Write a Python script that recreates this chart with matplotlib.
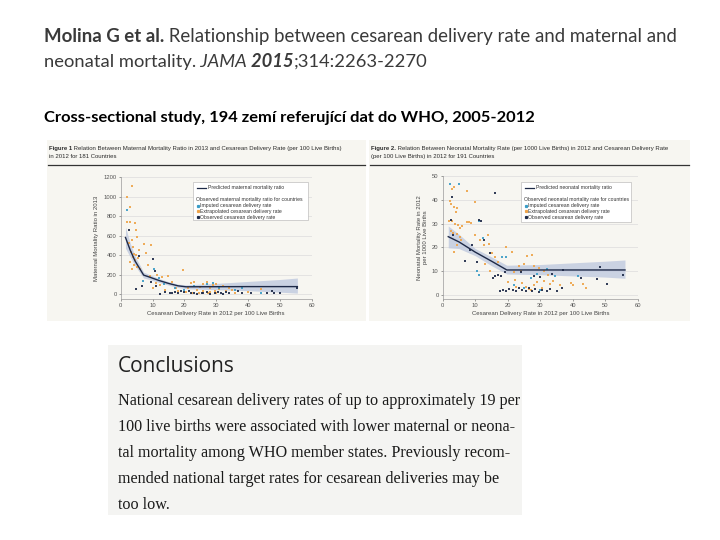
import matplotlib
matplotlib.use("Agg")
import matplotlib.pyplot as plt
from matplotlib.patches import Rectangle
from matplotlib.lines import Line2D
from matplotlib.transforms import Affine2D

# =====================================================================
# DATA
# =====================================================================
X_TICKS = [0, 10, 20, 30, 40, 50, 60]
MMR_TICKS = [0, 200, 400, 600, 800, 1000, 1200]
NMR_TICKS = [0, 10, 20, 30, 40, 50]

# Figure 1 - maternal mortality ratio vs cesarean rate
mmr_pred_x = [1.5, 3, 4.5, 6, 7.2, 9, 12, 15, 18, 20.5, 30, 40, 50, 55.5]
mmr_pred_y = [580, 450, 340, 260, 195, 175, 140, 110, 85, 75, 76, 77, 77, 77]
mmr_pred_lo = [470, 380, 290, 220, 165, 150, 120, 92, 68, 55, 45, 35, 20, 10]
mmr_pred_hi = [690, 520, 390, 300, 225, 200, 160, 128, 102, 95, 110, 130, 150, 165]

mmr_imputed_x = [1.9, 10.5, 12, 7, 13.5, 23, 27, 29, 31, 17, 36, 38, 44, 20]
mmr_imputed_y = [860, 260, 170, 130, 100, 80, 100, 110, 60, 60, 40, 60, 10, 40]

mmr_extrap_x = [3.6, 1.9, 2.9, 2.0, 2.9, 4.5, 4.8, 5.0, 3.4, 2.5, 4.0, 5.6, 3.3, 4.3, 4.8, 3.8,
                5.3, 4.5, 3.0, 4.1, 5.0, 6.0, 3.7, 7.2, 9.4, 7.8, 8.5, 9.2, 11.5, 13, 15, 11,
                12.5, 10.2, 14, 16, 17.5, 19.5, 20.5, 22, 23, 24, 25, 26, 27, 28, 29, 30, 31,
                32, 33, 34, 35, 21, 26, 28, 30, 44, 40, 36, 22.5, 24.5, 27.5, 18, 29.5]
mmr_extrap_y = [1110, 990, 890, 735, 735, 730, 655, 590, 550, 520, 480, 450, 430, 410, 400, 380,
                370, 350, 330, 300, 280, 260, 260, 510, 500, 420, 300, 190, 200, 180, 190, 110,
                90, 60, 40, 120, 60, 250, 20, 110, 120, 40, 70, 105, 120, 60, 90, 100, 50,
                80, 30, 60, 40, 60, 30, 20, 15, 50, 20, 10, 10, 15, 8, 30, 30]

mmr_obs_x = [2.6, 5.8, 10.2, 4.7, 6.6, 10.7, 9.5, 11, 15.5, 17, 19, 20, 21.5, 23, 24, 25.5, 27,
             28, 29.5, 30.5, 31.5, 33, 34, 37, 38, 41, 46, 47.5, 48, 50, 55.5, 26, 22, 18, 32,
             12.5, 14, 16]
mmr_obs_y = [660, 390, 360, 50, 80, 235, 120, 80, 10, 20, 30, 20, 30, 15, 5, 10, 20,
             5, 12, 20, 15, 25, 10, 30, 12, 15, 12, 30, 8, 8, 60, 8, 8, 12, 5,
             5, 25, 15]

# Figure 2 - neonatal mortality rate vs cesarean rate
nmr_pred_x = [1.7, 5, 10, 15, 19.7, 30, 40, 50, 56]
nmr_pred_y = [24.5, 22.3, 18.0, 14.2, 10.5, 10.5, 10.5, 10.5, 10.5]
nmr_pred_lo = [19.8, 19.5, 16.5, 12.3, 8.8, 8.5, 8.0, 7.5, 7.0]
nmr_pred_hi = [29.0, 25.5, 19.5, 16.0, 12.5, 12.8, 13.5, 14.2, 14.7]

nmr_imputed_x = [2.2, 5.0, 11, 12.3, 11, 10.6, 18.2, 19.6, 27, 29, 32, 34.5, 41.5, 22, 25, 30]
nmr_imputed_y = [46.6, 46.6, 31, 24, 8.5, 10, 16, 16, 7, 9, 11, 8, 8, 4, 3, 2]

nmr_extrap_x = [3.0, 3.6, 7.4, 2.2, 2.7, 3.5, 4.3, 4.0, 9.9, 1.8, 2.8, 3.8, 4.7, 5.4, 2.5, 3.3,
                4.3, 5.3, 5.6, 4.5, 3.5, 7.4, 8.0, 8.6, 6.0, 10, 11.4, 12.7, 13.9, 14.2, 15, 16,
                17, 13, 14.5, 19.3, 21.2, 21.8, 22.2, 20, 23.5, 24, 25, 26, 27.3, 28, 29.5, 31,
                32.5, 24.5, 25.5, 26.5, 28, 29, 30.5, 33, 34, 36, 39.5, 40, 43.2, 44, 22.5, 27, 31]
nmr_extrap_y = [44.5, 45.2, 43.6, 39.5, 38.3, 37, 36.6, 35, 39, 31, 31, 30, 29.5, 28, 27, 26,
                25.5, 24.5, 23, 21, 18, 30.5, 30.6, 30.2, 29, 25, 23, 20.8, 25, 21.5, 17.5, 16,
                14, 13, 10, 20, 18.2, 9.6, 6.2, 5.5, 12, 10, 13, 16.5, 17, 12, 11.5, 10,
                8.5, 5, 3.5, 2.5, 4, 5.5, 3, 4.5, 6, 4, 5, 4, 4.6, 3, 3.5, 2, 6]

nmr_obs_x = [3.0, 2.4, 3.1, 6.9, 10.6, 11.3, 11.7, 12.7, 8.5, 9, 14.5, 16.2, 16.1, 17, 18, 15.6,
             19, 17.5, 18.5, 19.5, 20.5, 21.5, 22.5, 23.5, 24.5, 25.5, 26.5, 27.5, 28.5, 29.5,
             30.5, 32, 33, 35, 37, 36.5, 42.6, 48.3, 55.5, 50.5, 47.5, 28, 30, 33.5, 24]
nmr_obs_y = [41, 31.6, 25, 14.4, 14, 31.5, 31, 23, 19, 21, 17.5, 42.8, 8, 8.5, 8, 7,
             9.5, 1.5, 2, 1.5, 2.5, 2, 1.5, 3, 2, 1.8, 3, 1.5, 2.5, 1.2,
             2, 1.5, 2.5, 1.5, 10.5, 3, 7.3, 11.9, 8.5, 4.6, 6.7, 8, 7.5, 9, 9.5]

# =====================================================================
# STYLE
# =====================================================================
ORANGE = '#eea44a'
TEAL = '#3a9cc6'
NAVY = '#1d2947'
BAND = '#bcc6de'
PANEL_BG = '#f7f6f1'
INK = '#3a3a3a'
SMALL_FONT = 'Liberation Sans'

fig = plt.figure(figsize=(7.2, 5.4), dpi=100)
fig.patch.set_facecolor('white')
# pixel coordinates with the origin in the top-left corner
PIX = Affine2D().scale(1 / 720, -1 / 540).translate(0, 1) + fig.transFigure
renderer = fig.canvas.get_renderer()


def text_runs(x, y, runs, size, family, color):
    # write pieces of one line one after the other (bold / italic mixed)
    for s, weight, style in runs:
        t = fig.text(x, y, s, transform=PIX, fontsize=size, fontweight=weight,
                     fontstyle=style, family=family, color=color, va='baseline')
        x += t.get_window_extent(renderer).width


def axes_px(x0, y0, x1, y1):
    return fig.add_axes([x0 / 720, 1 - y1 / 540, (x1 - x0) / 720, (y1 - y0) / 540])


# =====================================================================
# SLIDE HEADER
# =====================================================================
text_runs(44, 42, [('Molina G et al.', 'bold', 'normal'),
                   (' Relationship between cesarean delivery rate and maternal and', 'normal', 'normal')],
          13.45, 'Lato', INK)
text_runs(44, 67, [('neonatal mortality.', 'normal', 'normal'), (' JAMA', 'normal', 'italic'),
                   (' 2015', 'bold', 'italic'), (';314:2263-2270', 'normal', 'normal')],
          13.2, 'Lato', INK)
text_runs(44, 122, [('Cross-sectional study, 194 zemí referující dat do WHO, 2005-2012', 'bold', 'normal')],
          11.85, 'Lato', 'black')

# =====================================================================
# THE TWO SCANNED JAMA FIGURES
# =====================================================================
panels = [
    dict(bg=(47, 140, 366, 321), ax=(120.7, 177, 311.7, 299),
         head=[('Figure 1', 'bold', 'normal'),
               (' Relation Between Maternal Mortality Ratio in 2013 and Cesarean Delivery Rate (per 100 Live Births)', 'normal', 'normal')],
         head2='in 2012 for 181 Countries',
         px=mmr_pred_x, py=mmr_pred_y, plo=mmr_pred_lo, phi=mmr_pred_hi,
         series=[(mmr_extrap_x, mmr_extrap_y, ORANGE), (mmr_imputed_x, mmr_imputed_y, TEAL),
                 (mmr_obs_x, mmr_obs_y, NAVY)],
         ylim=(-50, 1200), yticks=MMR_TICKS, ylabel='Maternal Mortality Ratio in 2013',
         key=(193, 182, 308, 220),
         key_labels=['Predicted maternal mortality ratio', 'Observed maternal mortality ratio for countries']),
    dict(bg=(369, 140, 690, 321), ax=(442.7, 176, 638, 299),
         head=[('Figure 2.', 'bold', 'normal'),
               (' Relation Between Neonatal Mortality Rate (per 1000 Live Births) in 2012 and Cesarean Delivery Rate', 'normal', 'normal')],
         head2='(per 100 Live Births) in 2012 for 191 Countries',
         px=nmr_pred_x, py=nmr_pred_y, plo=nmr_pred_lo, phi=nmr_pred_hi,
         series=[(nmr_extrap_x, nmr_extrap_y, ORANGE), (nmr_imputed_x, nmr_imputed_y, TEAL),
                 (nmr_obs_x, nmr_obs_y, NAVY)],
         ylim=(-1.7, 50), yticks=NMR_TICKS, ylabel='Neonatal Mortality Rate in 2012\nper 1000 Live Births',
         key=(521, 182, 631, 222),
         key_labels=['Predicted neonatal mortality ratio', 'Observed neonatal mortality rate for countries']),
]

for p in panels:
    bx0, by0, bx1, by1 = p['bg']
    fig.add_artist(Rectangle((bx0, by0), bx1 - bx0, by1 - by0, transform=PIX,
                             facecolor=PANEL_BG, edgecolor='none', zorder=0))
    text_runs(bx0 + 2, by0 + 10, p['head'], 4.3, SMALL_FONT, '#2a2a2a')
    fig.text(bx0 + 2, by0 + 18, p['head2'], transform=PIX, fontsize=4.3, family=SMALL_FONT,
             color='#2a2a2a', va='baseline')
    fig.add_artist(Line2D([bx0 + 1, bx1 - 1], [by0 + 25, by0 + 25], transform=PIX,
                          color='#333333', lw=0.9))

    ax = axes_px(*p['ax'])
    ax.set_facecolor(PANEL_BG)
    ax.fill_between(p['px'], p['plo'], p['phi'], color=BAND, alpha=0.75, lw=0, zorder=1)
    for xs, ys, c in p['series']:
        ax.scatter(xs, ys, s=4, marker='s', color=c, lw=0, alpha=0.9, zorder=2)
    ax.plot(p['px'], p['py'], color=NAVY, lw=1.0, zorder=3)

    ax.set_xlim(0, 60)
    ax.set_ylim(*p['ylim'])
    ax.set_xticks(X_TICKS)
    ax.set_yticks(p['yticks'])
    ax.grid(axis='y', color='#dcdcdc', lw=0.5)
    ax.set_axisbelow(True)
    for side in ['top', 'right']:
        ax.spines[side].set_visible(False)
    for side in ['left', 'bottom']:
        ax.spines[side].set_color('#9a9a9a')
        ax.spines[side].set_linewidth(0.5)
    ax.tick_params(labelsize=4.2, colors='#555555', length=1.5, width=0.4, pad=1.5)
    for lab in ax.get_xticklabels() + ax.get_yticklabels():
        lab.set_family(SMALL_FONT)
    ax.set_xlabel('Cesarean Delivery Rate in 2012 per 100 Live Births', fontsize=4.3,
                  family=SMALL_FONT, color='#444444', labelpad=2)
    ax.set_ylabel(p['ylabel'], fontsize=4.3, family=SMALL_FONT, color='#444444', labelpad=3)

    # key box
    kx0, ky0, kx1, ky1 = p['key']
    fig.add_artist(Rectangle((kx0, ky0), kx1 - kx0, ky1 - ky0, transform=PIX,
                             facecolor='white', edgecolor='#b0b0b0', lw=0.4, zorder=4))
    fig.add_artist(Line2D([kx0 + 4, kx0 + 13], [ky0 + 6, ky0 + 6], transform=PIX,
                          color=NAVY, lw=0.9, zorder=5))
    fig.text(kx0 + 15, ky0 + 7.5, p['key_labels'][0], transform=PIX, fontsize=3.7,
             family=SMALL_FONT, color='#333333', zorder=5)
    fig.text(kx0 + 3, ky0 + 18.5, p['key_labels'][1], transform=PIX, fontsize=3.7,
             family=SMALL_FONT, color='#333333', zorder=5)
    key_rows = [('Imputed cesarean delivery rate', TEAL),
                ('Extrapolated cesarean delivery rate', ORANGE),
                ('Observed cesarean delivery rate', NAVY)]
    for i, (lab, c) in enumerate(key_rows):
        yy = ky0 + 23.5 + i * 5.8
        fig.add_artist(Line2D([kx0 + 4.5], [yy], transform=PIX, marker='s', ms=1.3,
                              color=c, lw=0, zorder=5))
        fig.text(kx0 + 7, yy + 1.5, lab, transform=PIX, fontsize=3.7,
                 family=SMALL_FONT, color='#333333', zorder=5)

# =====================================================================
# CONCLUSIONS EXCERPT
# =====================================================================
fig.add_artist(Rectangle((108, 345), 414, 170, transform=PIX,
                         facecolor='#f4f4f2', edgecolor='none', zorder=0))
fig.text(118, 371.5, 'Conclusions', transform=PIX, fontsize=15, family='Open Sans',
         color='#222222', va='baseline')
conclusion_lines = [
    'National cesarean delivery rates of up to approximately 19 per',
    '100 live births were associated with lower maternal or neona-',
    'tal mortality among WHO member states. Previously recom-',
    'mended national target rates for cesarean deliveries may be',
    'too low.',
]
for i, line in enumerate(conclusion_lines):
    fig.text(118, 405 + i * 26, line, transform=PIX, fontsize=11.6, family='Liberation Serif',
             color='#1a1a1a', va='baseline')

fig.savefig('out.png', dpi=100)
